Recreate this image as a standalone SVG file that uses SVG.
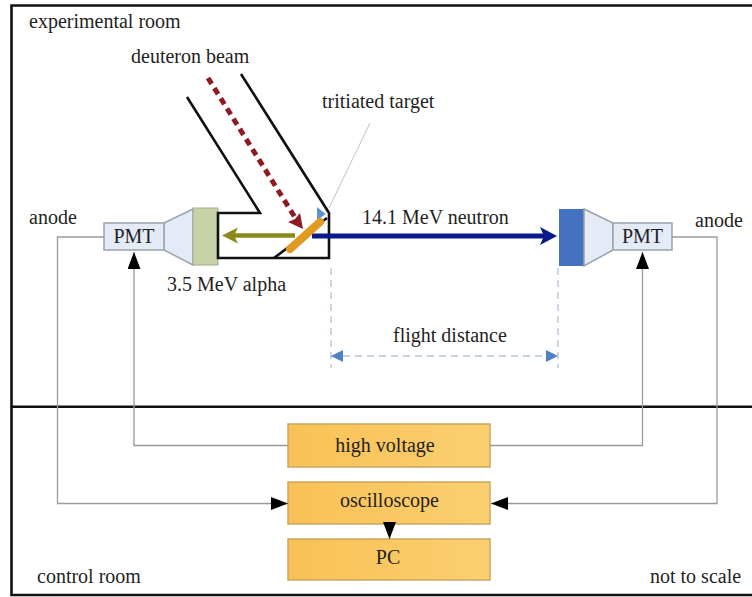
<svg xmlns="http://www.w3.org/2000/svg" width="752" height="597" viewBox="0 0 752 597">
<style>
text{font-family:"Liberation Serif","Times New Roman",serif;font-size:20px;fill:#1f1f1f}
.m{text-anchor:middle}
.wire{fill:none;stroke:#9a9a9a;stroke-width:1.3}
.tube{fill:none;stroke:#111;stroke-width:2.6}
.box{fill:url(#amber);stroke:#c9a860;stroke-width:1.5}
.pmt{fill:#e4eaf6;stroke:#9aa3ad;stroke-width:1.5}
.dim{fill:none;stroke:#b4c4dc;stroke-width:1.4;stroke-dasharray:7 5}
</style>
<defs>
<linearGradient id="amber"><stop offset="0" stop-color="#f8c155"/><stop offset="1" stop-color="#fbcf70"/></linearGradient>
<marker id="blk" markerUnits="userSpaceOnUse" markerWidth="18" markerHeight="13" refX="17" refY="6.500" orient="auto"><path d="M0 0L17 6.500L0 13Z" fill="#000"/></marker>
<marker id="dim" markerUnits="userSpaceOnUse" markerWidth="12" markerHeight="12" refX="12" refY="6" orient="auto-start-reverse"><path d="M0 0L12 6L0 12Z" fill="#4f7fc4"/></marker>
</defs>
<rect width="752" height="597" fill="#fff"/>
<g id="frame" fill="none" stroke="#111" stroke-width="2.6">
<path d="M754 5.500H11.500V595H754"/>
<path d="M11 406.700H754"/>
</g>
<g id="detector-left">
<path class="pmt" d="M164 223L193 209V265L164 250Z"/>
<rect x="193" y="208" width="25" height="57" fill="#c6d2a6" stroke="#a4ad90" stroke-width="1"/>
<rect class="pmt" x="104" y="223" width="60" height="27"/>
<text class="m" x="134" y="243">PMT</text>
</g>
<g id="target-chamber">
<path class="tube" d="M187 97L260 213H218V258H329V213L241 74"/>
<path class="tube" d="M274 258L327 218" stroke-width="2"/>
<path d="M317 207L325.500 214L317 220.500Z" fill="#5b93d3"/>
<path d="M208 78L296 219" fill="none" stroke="#8e1a22" stroke-width="5" stroke-dasharray="7 5"/>
<path d="M303 229L288 222L295 219L300 213Z" fill="#8e1a22"/>
<path d="M295 235.500H232" fill="none" stroke="#8a8a1c" stroke-width="4.500"/>
<path d="M222 235.500L238 227.500L234 235.500L238 243.500Z" fill="#8a8a1c"/>
<path d="M312 236H545" fill="none" stroke="#0a1a8c" stroke-width="5"/>
<path d="M557 236L540 227L544 236L540 245Z" fill="#0a1a8c"/>
<path d="M290 249L320 222" fill="none" stroke="#e09a22" stroke-width="8" stroke-linecap="round"/>
</g>
<g id="detector-right">
<rect x="559" y="209" width="25" height="57" fill="#4472c0"/>
<path class="pmt" d="M584 209L613 223V250L584 266Z"/>
<rect class="pmt" x="613" y="223" width="59" height="27"/>
<text class="m" x="642.500" y="243">PMT</text>
</g>
<g id="high-voltage"><rect class="box" x="288" y="424" width="202" height="43"/><text class="m" x="385" y="452">high voltage</text></g>
<g id="oscilloscope"><rect class="box" x="288" y="482" width="202" height="42"/><text class="m" x="389.500" y="507">oscilloscope</text></g>
<g id="pc"><rect class="box" x="288" y="539" width="202" height="41"/><text class="m" x="388" y="564">PC</text></g>
<g id="connectors">
<path class="wire" d="M104 237H57.500V503.500H288" marker-end="url(#blk)"/>
<path class="wire" d="M672 237H717V503.500H491" marker-end="url(#blk)"/>
<path class="wire" d="M288 445.500H134V252" marker-end="url(#blk)"/>
<path class="wire" d="M490 445.500H642.500V252" marker-end="url(#blk)"/>
<path class="wire" d="M389.500 522V539" marker-end="url(#blk)"/>
<path d="M370 123L329 208" fill="none" stroke="#bcc4cc" stroke-width="1"/>
<path class="dim" d="M331 268V368M558 268V368"/>
<path class="dim" d="M331 356H558" marker-start="url(#dim)" marker-end="url(#dim)"/>
</g>
<g id="labels">
<text x="29" y="28">experimental room</text>
<text x="131" y="63">deuteron beam</text>
<text x="322" y="108">tritiated target</text>
<text x="29" y="224">anode</text>
<text x="695" y="227">anode</text>
<text x="362" y="224">14.1 MeV neutron</text>
<text x="167" y="291">3.5 MeV alpha</text>
<text x="393" y="342">flight distance</text>
<text x="37" y="583">control room</text>
<text x="650" y="583">not to scale</text>
</g>
</svg>
